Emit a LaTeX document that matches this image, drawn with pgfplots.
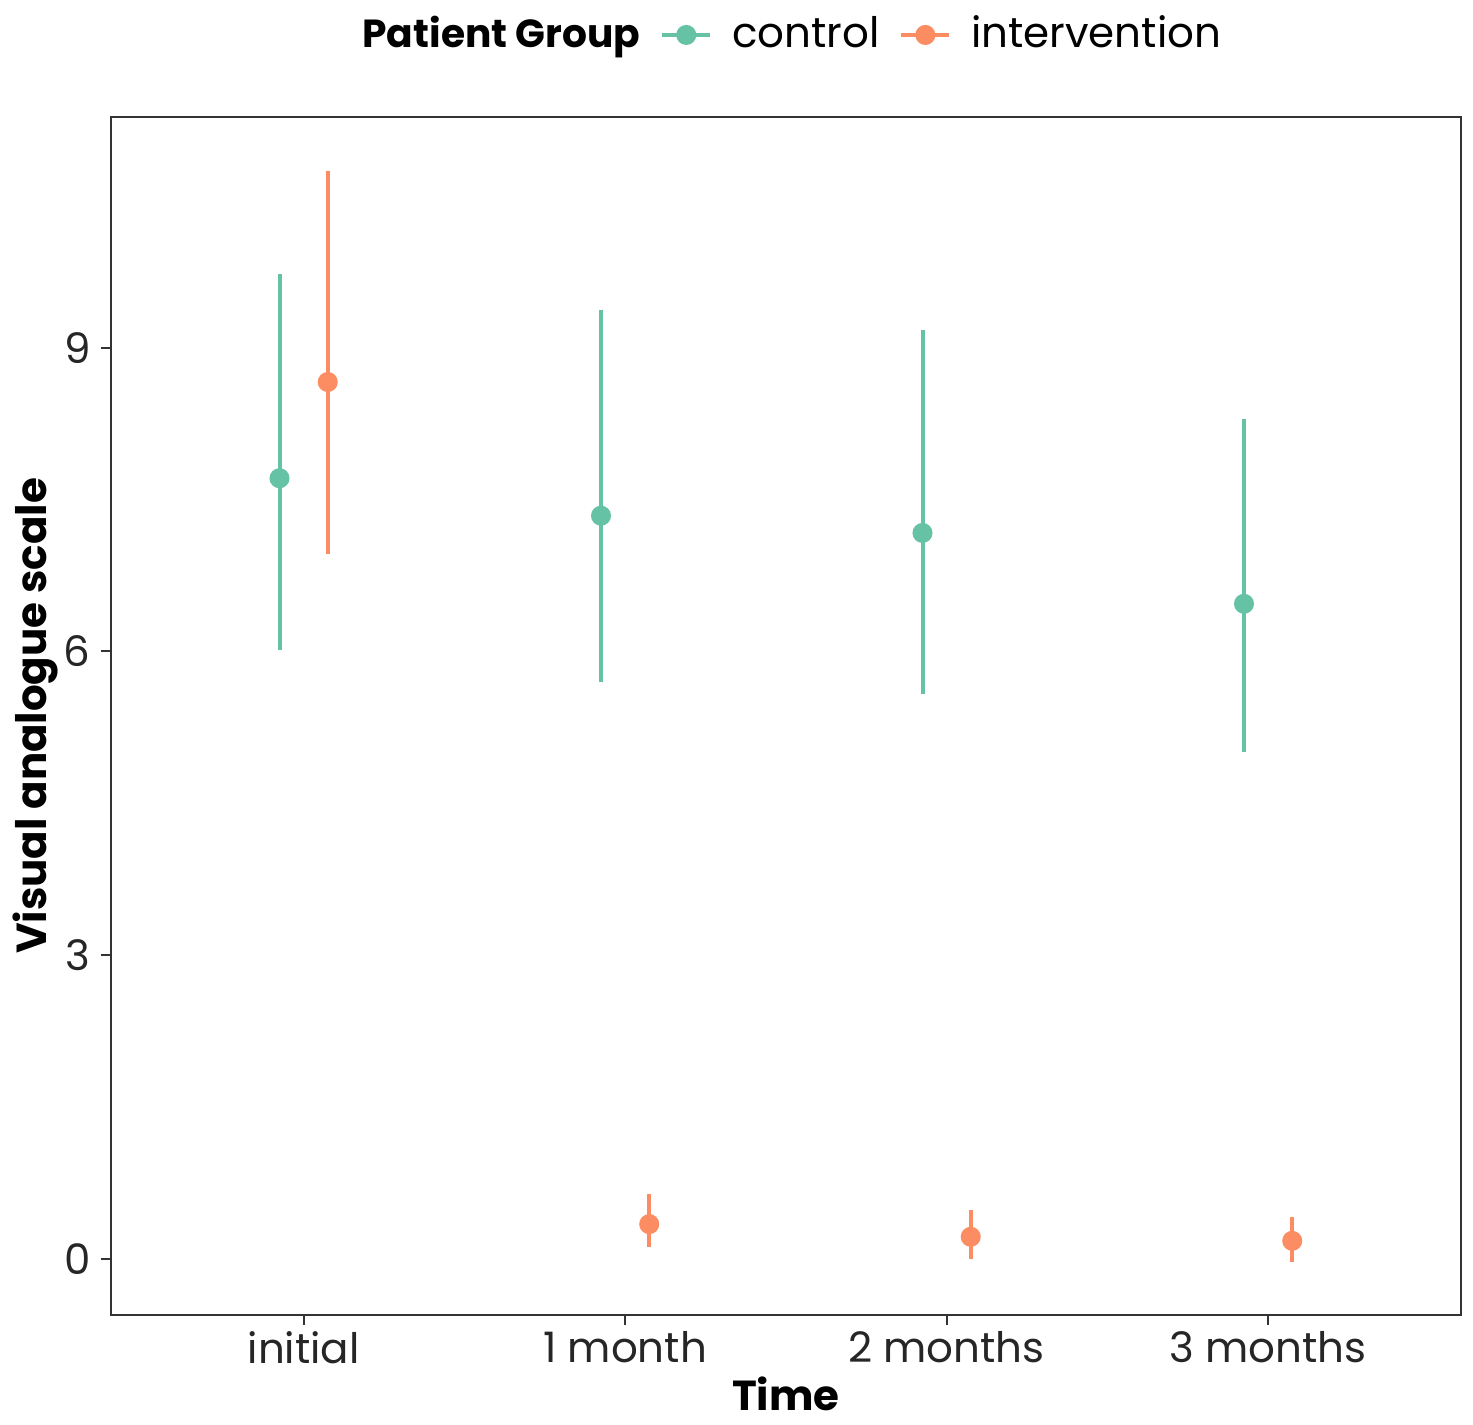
\documentclass[border=0pt]{standalone}
\usepackage{fontspec}
\setmainfont{Poppins}
\usepackage{pgfplots}
\pgfplotsset{compat=1.18}
\definecolor{ctrl}{HTML}{66C2A5}
\definecolor{intv}{HTML}{FC8D62}

\begin{document}
\begin{tikzpicture}
\begin{axis}[
  scale only axis, width=337.75pt, height=299.75pt,
  xmin=0.4, xmax=4.6, ymin=-0.553, ymax=11.28,
  xtick={1,2,3,4}, xticklabels={initial,1 month,2 months,3 months},
  ytick={0,3,6,9},
  xtick pos=bottom, ytick pos=left,
  /pgf/number format/assume math mode=true,
  tick label style={font=\fontsize{10.5}{12}\selectfont, text=black!85},
  yticklabel style={xshift=1pt},
  xticklabel style={yshift=2pt},
  label style={font=\fontsize{10.5}{12}\selectfont\bfseries},
  xlabel={Time}, ylabel={Visual analogue scale},
  xlabel style={yshift=3.5pt}, ylabel style={yshift=-5.5pt},
  tick align=outside, major tick length=2.5pt,
  tick style={black!80, line width=0.5pt},
  axis line style={black!80, line width=0.5pt},
  legend columns=-1,
  legend style={at={(0.5,1)}, anchor=south, yshift=11.5pt, draw=none,
    font=\fontsize{10.5}{12}\selectfont, column sep=3pt},
]
\addlegendimage{empty legend}
\addlegendentry{\fontsize{9.8}{12}\selectfont\textbf{Patient Group}}

\addplot[only marks, mark=*, mark size=2pt, color=ctrl, line width=1pt,
  legend image code/.code={\draw[ctrl, line width=1pt] (0cm,0cm) -- (0.42cm,0cm);
    \fill[ctrl] (0.21cm,0cm) circle (2pt);},
  error bars/.cd, y dir=both, y explicit, error mark=none,
  error bar style={line width=1pt, color=ctrl}]
  table[x=x, y=y, y error plus=ep, y error minus=em] {
x      y      ep    em
0.925  7.71   2.02  1.70
1.925  7.34   2.03  1.64
2.925  7.17   2.00  1.59
3.925  6.47   1.82  1.46
};
\addlegendentry{control}

\addplot[only marks, mark=*, mark size=2pt, color=intv, line width=1pt,
  legend image code/.code={\draw[intv, line width=1pt] (0cm,0cm) -- (0.42cm,0cm);
    \fill[intv] (0.21cm,0cm) circle (2pt);},
  error bars/.cd, y dir=both, y explicit, error mark=none,
  error bar style={line width=1pt, color=intv}]
  table[x=x, y=y, y error plus=ep, y error minus=em] {
x      y      ep    em
1.075  8.66   2.08  1.70
2.075  0.345  0.30  0.23
3.075  0.22   0.26  0.22
4.075  0.18   0.24  0.21
};
\addlegendentry{intervention}
\end{axis}
% small right margin as in the reference
\path (current axis.east) ++(3pt,0) coordinate (rm);
\end{tikzpicture}
\end{document}
